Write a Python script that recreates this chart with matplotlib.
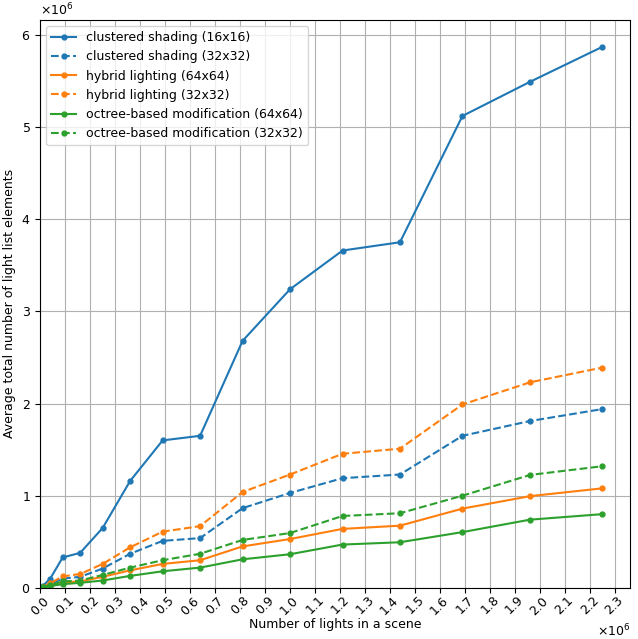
import matplotlib
matplotlib.use("Agg")
import matplotlib.pyplot as plt

# number of lights (100*k)^2
lights = [10000, 40000, 90000, 160000, 250000, 360000, 490000, 640000,
          810000, 1000000, 1210000, 1440000, 1690000, 1960000, 2250000]

# average total light list elements (millions)
clustered_16 = [0.02, 0.10, 0.33, 0.38, 0.65, 1.16, 1.60, 1.65, 2.68, 3.24, 3.66, 3.75, 5.12, 5.49, 5.87]
clustered_32 = [0.01, 0.04, 0.10, 0.12, 0.21, 0.37, 0.51, 0.54, 0.865, 1.03, 1.19, 1.23, 1.65, 1.81, 1.94]
hybrid_64 = [0.01, 0.02, 0.06, 0.07, 0.12, 0.19, 0.26, 0.30, 0.45, 0.53, 0.64, 0.675, 0.86, 0.995, 1.08]
hybrid_32 = [0.01, 0.05, 0.125, 0.15, 0.26, 0.44, 0.61, 0.67, 1.04, 1.23, 1.455, 1.51, 1.99, 2.23, 2.39]
octree_64 = [0.005, 0.02, 0.04, 0.055, 0.08, 0.13, 0.18, 0.22, 0.31, 0.365, 0.47, 0.495, 0.605, 0.74, 0.80]
octree_32 = [0.01, 0.03, 0.07, 0.08, 0.14, 0.22, 0.30, 0.37, 0.52, 0.595, 0.78, 0.81, 1.0, 1.225, 1.32]

series = [
    ("clustered shading (16x16)", clustered_16, "tab:blue", "-"),
    ("clustered shading (32x32)", clustered_32, "tab:blue", "--"),
    ("hybrid lighting (64x64)", hybrid_64, "tab:orange", "-"),
    ("hybrid lighting (32x32)", hybrid_32, "tab:orange", "--"),
    ("octree-based modification (64x64)", octree_64, "tab:green", "-"),
    ("octree-based modification (32x32)", octree_32, "tab:green", "--"),
]

plt.rcParams["font.size"] = 9

fig, ax = plt.subplots(figsize=(6.38, 6.39), dpi=100)
fig.subplots_adjust(left=0.063, right=0.988, top=0.969, bottom=0.08)

for name, vals, color, ls in series:
    ax.plot(lights, [v * 1e6 for v in vals], color=color, linestyle=ls,
            marker=".", markersize=7, label=name)

ax.set_xticks([i * 100000 for i in range(24)])
ax.set_xlim(left=0)
ax.set_ylim(bottom=0)
ax.ticklabel_format(useMathText=True)
ax.tick_params(labelsize=9)
ax.tick_params(axis="x", pad=1)
plt.setp(ax.get_xticklabels(), rotation=45)
ax.grid(True)
ax.set_xlabel("Number of lights in a scene", fontsize=9, labelpad=0)
ax.set_ylabel("Average total number of light list elements", fontsize=9)
ax.legend(loc="upper left", fontsize=9)

fig.savefig("out.png", dpi=100)
